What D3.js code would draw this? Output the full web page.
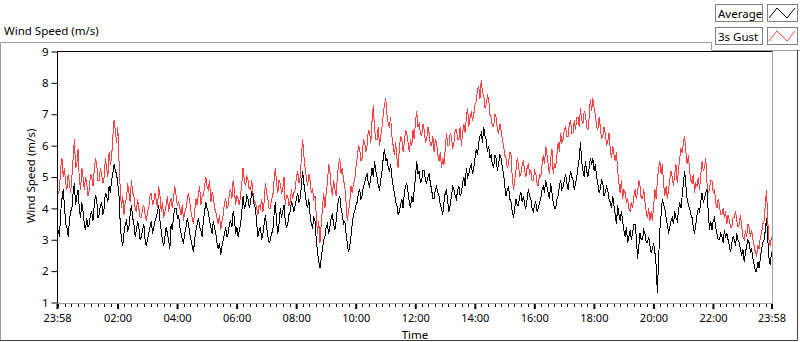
<!DOCTYPE html>
<html>
<head>
<meta charset="utf-8">
<script src="https://cdn.jsdelivr.net/npm/d3@7"></script>
<style>
  body { margin: 0; background: #fff; }
  svg { display: block; font-family: "Noto Sans", sans-serif; }
</style>
</head>
<body>
<svg id="chart" width="800" height="342"></svg>
<script>
// Chart data: one value every 2.5 minutes, starting 23:58 and running one full day
const startTime = new Date(2020, 0, 1, 23, 58);
const stepMinutes = 2.5;

// Average wind speed (m/s), one row per hour
const averageSpeed = [
  3.0,3.3,3.1,3.9,4.3,4.6,4.1,3.5,3.4,3.1,3.6,3.9,4.0,4.5,4.8,4.1,4.4,4.6,4.0,3.7,4.2,3.9,3.5,3.3,
  3.7,3.4,3.5,3.8,3.9,3.6,4.1,4.4,4.3,3.7,3.8,4.1,4.2,3.8,4.0,4.5,4.4,4.2,4.7,4.5,4.9,5.1,5.4,5.2,
  5.1,4.8,4.4,3.5,3.0,2.8,3.2,3.5,3.6,3.3,3.4,3.8,4.1,3.7,3.5,3.1,3.3,3.6,3.4,3.0,3.1,3.3,3.5,3.0,
  2.8,3.0,3.2,3.4,3.6,3.2,3.4,3.6,3.7,3.9,4.1,3.6,3.3,3.0,2.8,3.1,3.4,3.2,3.0,2.7,3.5,3.3,3.8,4.0,
  4.0,3.7,3.8,3.4,3.2,3.0,2.9,3.2,3.4,3.7,3.5,3.2,3.0,2.8,2.6,3.0,3.3,3.5,3.7,3.4,3.3,3.1,3.6,3.9,
  4.2,4.0,3.9,3.6,3.4,3.2,3.6,3.4,3.2,2.9,2.7,2.9,2.5,2.8,3.0,3.2,3.4,3.1,3.2,3.5,3.6,3.4,3.9,3.7,
  3.2,3.4,3.1,3.3,3.5,3.9,4.4,4.0,4.1,4.4,4.3,4.0,4.2,4.5,4.4,4.1,4.0,3.5,3.1,3.3,3.4,3.0,3.2,3.5,
  3.8,3.4,3.1,2.9,3.0,3.2,3.3,3.8,4.2,3.6,3.2,3.5,4.0,3.7,3.9,4.1,3.6,3.4,3.5,3.8,3.9,4.2,4.1,3.9,
  4.1,4.3,4.5,4.2,4.3,4.7,5.2,4.8,4.5,4.2,4.0,4.3,3.8,3.5,3.4,3.7,3.6,3.0,2.6,2.3,2.1,2.4,2.7,3.0,
  3.1,3.4,3.5,3.2,3.4,3.7,3.8,3.5,3.3,3.6,4.0,4.3,4.4,4.0,3.8,3.5,3.6,3.2,2.9,2.6,2.8,3.1,3.5,3.8,
  3.9,4.1,4.2,4.5,4.6,4.3,4.4,4.7,4.8,5.0,5.1,4.8,4.7,5.0,5.3,5.0,5.5,5.2,5.0,4.7,4.6,4.9,5.2,5.6,
  5.9,5.5,5.6,5.3,5.2,5.4,5.0,4.7,4.5,4.2,4.1,3.8,3.9,4.1,4.3,4.0,4.5,4.7,4.8,4.5,4.2,4.0,4.4,4.2,
  4.6,5.0,5.5,5.1,5.2,4.8,4.9,5.2,5.2,4.9,4.8,5.0,5.1,4.8,4.6,4.3,4.3,4.6,4.7,4.5,4.4,4.1,4.0,3.8,
  4.2,4.5,4.6,4.2,3.9,4.1,4.4,4.7,4.6,4.4,4.3,4.6,4.7,4.4,4.5,4.8,5.0,4.7,5.3,5.0,5.1,5.3,5.4,5.1,
  5.3,5.6,5.9,5.7,6.1,6.3,6.4,6.1,6.6,6.3,6.2,5.8,6.0,5.6,5.7,5.4,5.3,5.7,5.6,5.2,5.4,5.7,5.6,5.3,
  5.1,4.7,4.4,4.6,4.7,4.3,4.2,3.9,3.7,4.0,4.3,4.1,4.1,4.4,4.5,4.2,4.4,4.1,4.0,4.3,4.6,4.4,4.3,4.0,
  3.9,4.1,4.2,3.9,4.0,4.2,4.3,4.6,4.7,4.5,4.9,4.7,4.5,4.3,4.8,4.5,4.2,4.0,4.0,4.3,4.4,4.7,4.9,4.6,
  4.7,4.9,5.1,4.8,4.6,4.9,5.2,5.0,4.9,4.6,4.8,5.0,5.3,5.6,6.1,5.5,5.2,5.0,5.5,5.2,5.0,5.3,5.6,5.4,
  5.6,5.2,5.4,5.0,4.8,4.5,4.6,4.9,4.8,4.4,4.5,4.7,4.6,4.3,4.2,4.0,4.4,4.1,3.8,3.5,4.1,3.8,3.6,3.9,
  3.6,3.3,3.1,3.4,2.9,3.1,3.3,3.0,3.2,3.5,3.5,3.1,2.4,2.8,3.2,3.0,3.0,3.3,3.2,2.9,2.9,3.1,2.8,2.6,
  2.7,2.9,2.6,2.2,1.3,2.4,3.3,3.8,4.3,4.1,4.0,3.7,3.5,3.2,3.4,3.6,3.7,3.5,3.9,3.7,3.6,3.9,4.2,4.0,
  4.4,4.8,5.2,4.7,4.3,4.1,4.0,3.8,3.7,3.4,3.2,3.5,3.8,4.0,3.9,4.2,4.5,4.2,4.3,4.5,4.6,3.9,3.3,3.6,
  3.3,3.6,3.7,3.4,3.2,3.0,3.0,3.2,3.1,2.9,3.3,3.1,3.2,3.0,2.8,2.6,2.9,3.1,3.0,2.8,3.2,3.0,2.9,2.7,
  2.5,2.7,2.3,2.6,2.8,3.0,2.9,2.6,2.7,2.4,2.2,2.0,2.0,2.3,2.1,2.4,2.7,2.9,3.0,3.3,3.7,3.0,2.4,2.2,
  2.6
];

// 3 second gust (m/s), one row per hour
const gustSpeed = [
  4.2,4.5,4.6,5.3,5.6,5.0,5.3,4.8,4.6,5.1,4.8,4.5,5.0,5.6,6.2,5.3,5.4,5.9,4.9,4.6,5.3,5.0,4.6,5.0,
  4.8,4.4,4.6,5.1,5.0,4.7,5.2,5.6,5.4,4.9,4.9,5.3,5.1,4.8,5.0,5.6,5.3,5.0,5.8,5.4,5.6,6.3,6.8,6.5,
  6.1,6.6,5.5,4.6,4.0,4.4,3.8,4.2,4.3,4.8,4.5,4.2,4.9,4.5,4.4,4.0,3.9,4.3,4.0,3.7,3.7,4.0,4.1,3.8,
  3.6,3.9,4.0,4.4,4.5,4.1,4.2,4.5,4.3,4.0,4.7,4.4,3.9,4.2,3.7,3.9,4.1,4.4,3.9,4.2,4.3,4.0,4.4,4.7,
  4.4,4.1,4.2,4.0,3.8,4.1,3.6,3.9,4.0,4.3,4.5,4.2,3.9,3.7,3.5,3.9,4.3,4.1,4.5,4.7,4.1,4.4,4.4,4.7,
  5.0,4.7,4.6,4.9,4.2,4.5,4.4,4.0,3.9,3.7,3.5,3.8,3.3,3.6,3.8,4.2,4.3,4.0,4.1,4.5,4.6,4.3,4.9,4.6,
  4.1,4.4,4.3,4.1,4.4,4.8,5.3,4.9,4.7,5.0,4.9,4.6,4.6,4.9,4.5,4.2,4.2,4.0,3.8,4.1,4.0,4.3,3.9,4.2,
  4.8,4.5,4.3,4.0,4.0,4.3,4.4,4.9,5.3,4.8,4.5,4.9,4.8,4.5,4.6,5.0,4.1,4.4,4.4,4.1,4.2,4.6,4.3,4.5,
  4.6,5.0,5.2,4.8,5.0,5.6,6.2,5.7,5.3,5.0,4.7,5.1,4.9,4.5,4.6,4.3,4.4,3.8,3.2,3.6,2.9,3.5,4.0,4.5,
  4.0,4.5,4.8,5.4,5.2,4.7,4.4,4.9,4.6,4.4,5.0,5.4,5.6,5.1,5.3,4.9,4.7,4.2,3.6,3.9,4.2,4.7,4.5,4.8,
  4.9,5.3,5.6,6.0,5.9,5.5,5.6,6.2,6.1,5.8,6.0,6.5,6.4,6.1,6.8,7.3,6.5,6.2,6.2,6.6,6.0,6.3,6.6,7.0,
  7.3,7.5,7.0,6.7,6.6,6.9,6.3,6.0,5.7,6.1,5.6,5.3,5.9,6.3,6.2,5.8,6.1,6.5,6.4,6.1,5.8,6.2,6.0,6.5,
  6.2,6.8,7.1,6.6,6.7,6.4,6.3,6.7,6.5,6.1,6.2,6.6,6.4,6.0,6.0,6.3,5.8,6.2,6.1,5.7,5.5,5.8,5.3,5.6,
  5.4,5.9,6.4,6.0,6.0,6.4,6.3,5.9,6.1,6.5,6.5,6.2,6.2,6.6,6.0,6.4,6.7,6.4,6.9,7.2,6.6,6.9,7.1,6.8,
  7.0,7.3,7.4,7.8,7.9,7.5,8.1,7.7,7.6,7.2,7.3,7.6,7.5,7.0,6.9,6.6,6.6,7.0,6.9,6.5,6.4,6.7,6.5,6.2,
  6.0,5.7,5.6,5.3,5.4,5.8,5.7,5.0,4.6,4.9,5.2,5.6,5.4,5.0,5.1,5.4,5.5,5.2,5.0,5.3,5.4,5.1,5.2,4.9,
  4.9,5.2,5.1,4.8,4.7,5.1,5.0,5.4,5.7,5.4,6.0,5.7,5.4,5.1,5.6,5.9,5.1,5.4,5.3,5.7,6.1,5.8,6.4,6.1,
  6.2,6.5,6.6,6.3,6.3,6.7,6.8,6.4,6.4,6.8,6.5,6.9,6.9,6.6,7.2,6.8,6.7,7.1,7.0,6.6,6.5,6.9,7.5,7.1,
  7.5,7.2,7.0,6.6,6.5,6.9,6.6,6.2,6.3,6.6,6.4,6.0,6.1,6.4,5.9,5.6,6.0,5.7,5.5,5.8,5.2,4.8,4.5,4.9,
  4.3,4.6,4.5,4.2,4.3,4.0,3.9,4.2,4.0,4.4,4.6,4.3,4.5,4.9,4.7,4.3,4.3,4.6,4.2,3.9,3.7,4.0,3.6,3.9,
  3.6,4.1,4.6,4.3,4.9,5.3,5.5,5.1,5.4,4.8,4.4,4.7,4.3,4.6,4.9,5.2,5.0,4.7,5.1,5.4,4.8,5.2,5.6,5.9,
  5.8,6.1,6.3,5.8,5.4,5.7,5.2,4.9,4.8,5.1,4.5,4.8,4.7,5.0,4.6,5.1,5.5,5.2,5.3,5.6,4.8,4.5,4.6,4.9,
  4.9,4.5,4.6,4.2,4.0,4.3,4.1,3.8,3.8,4.0,3.7,3.9,3.5,3.8,3.6,3.4,3.4,3.7,3.7,3.9,3.6,3.4,3.5,3.8,
  3.4,3.1,3.0,3.3,3.1,3.5,3.4,3.1,3.3,3.0,2.8,2.6,2.5,2.8,2.7,3.1,3.2,3.5,3.6,4.1,4.6,3.6,3.0,2.8,
  3.1
];

const yTicks = [1, 2, 3, 4, 5, 6, 7, 8, 9];
const seriesNames = ["Average", "3s Gust"];
const seriesColors = ["#000000", "#ff4040"];

const endTime = new Date(startTime.getTime() + 24 * 3600000);
// major ticks: the two ends plus every 2 hours
const majorTicks = [startTime].concat(
  d3.range(1, 12).map(h => new Date(2020, 0, 2, h * 2, 0)), [endTime]);
// minor ticks: 9 per 2 hour interval, counted from midnight
const minorTicks = d3.range(0, 24 * 60, 120 / 9)
  .map(m => new Date(new Date(2020, 0, 2).getTime() + m * 60000))
  .filter(d => d >= startTime && d <= endTime);

const svg = d3.select("#chart");
const plotLeft = 57, plotRight = 772, plotTop = 51, plotBottom = 303;

const x = d3.scaleTime().domain([startTime, endTime]).range([plotLeft, plotRight - 0.5]);
const y = d3.scaleLinear().domain([1, 9]).range([plotBottom - 0.5, plotTop + 0.5]);

// outer frame of the graph
svg.append("path").attr("d", "M0.5,341 V42.5 H711.5 V50.5 H800")
  .attr("fill", "none").attr("stroke", "#a0a0a0");
svg.append("path").attr("d", "M0,340.5 H797.5 V50")
  .attr("fill", "none").attr("stroke", "#404040");

svg.append("text").attr("x", 4).attr("y", 35)
  .attr("font-size", 11.5).attr("fill", "#000").text("Wind Speed (m/s)");

// plot area border: bottom and right grey
svg.append("path").attr("d", `M${plotLeft},${plotBottom + 0.5} H${plotRight + 0.5} V${plotTop}`)
  .attr("fill", "none").attr("stroke", "#a0a0a0");

// the series, gust under average
const timeAt = i => new Date(startTime.getTime() + i * stepMinutes * 60000);
const line = d3.line().x((d, i) => x(timeAt(i))).y(d => y(d));
const plotG = svg.append("g");
[[gustSpeed, seriesColors[1]], [averageSpeed, seriesColors[0]]].forEach(([values, color]) => {
  plotG.append("path").datum(values)
    .attr("d", line)
    .attr("fill", "none")
    .attr("stroke", color)
    .attr("stroke-width", 1)
    .attr("shape-rendering", "crispEdges");
});

// top and left of the plot area are black
svg.append("path").attr("d", `M${plotLeft + 0.5},${plotBottom} V${plotTop + 0.5} H${plotRight}`)
  .attr("fill", "none").attr("stroke", "#000");

// y axis
const yAxis = svg.append("g").attr("transform", `translate(${plotLeft + 0.5},0)`)
  .call(d3.axisLeft(y).tickValues(yTicks).tickSize(6).tickPadding(3).tickFormat(d3.format("d")));
yAxis.select(".domain").remove();
yAxis.selectAll("text").attr("font-size", 11.5).attr("font-family", "Noto Sans").attr("fill", "#000");

svg.append("text")
  .attr("transform", `translate(35,176) rotate(-90)`)
  .attr("text-anchor", "middle").attr("font-size", 11.5).text("Wind Speed (m/s)");

// x axis, minor ticks first
svg.append("g").selectAll("line").data(minorTicks).join("line")
  .attr("x1", d => Math.round(x(d)) + 0.5).attr("x2", d => Math.round(x(d)) + 0.5)
  .attr("y1", plotBottom + 1).attr("y2", plotBottom + 4)
  .attr("stroke", "#000");

const xAxis = svg.append("g").attr("transform", `translate(0,${plotBottom + 1})`)
  .call(d3.axisBottom(x).tickValues(majorTicks).tickSize(5).tickPadding(5)
    .tickFormat(d3.timeFormat("%H:%M")));
xAxis.select(".domain").remove();
xAxis.selectAll("line").attr("stroke-width", 2);
xAxis.selectAll("text").attr("font-size", 11).attr("font-family", "Noto Sans").attr("fill", "#000");

svg.append("text").attr("x", 415).attr("y", 338.5)
  .attr("text-anchor", "middle").attr("font-size", 11.5).text("Time");

// legend
const legend = svg.append("g");
seriesNames.forEach((name, k) => {
  const g = legend.append("g").attr("transform", `translate(0,${k * 23})`);
  g.append("rect").attr("x", 715.5).attr("y", 4.5).attr("width", 47).attr("height", 17)
    .attr("fill", "#fff").attr("stroke", "#808080");
  g.append("text").attr("x", 718).attr("y", 17.5).attr("font-size", 11.5).text(name);
  g.append("rect").attr("x", 767.5).attr("y", 4.5).attr("width", 30).attr("height", 17)
    .attr("fill", "#fff").attr("stroke", "#808080");
  g.append("path").attr("d", "M769,18 L777,8 L787,18 L795,8")
    .attr("fill", "none").attr("stroke", seriesColors[k]);
});
</script>
</body>
</html>
